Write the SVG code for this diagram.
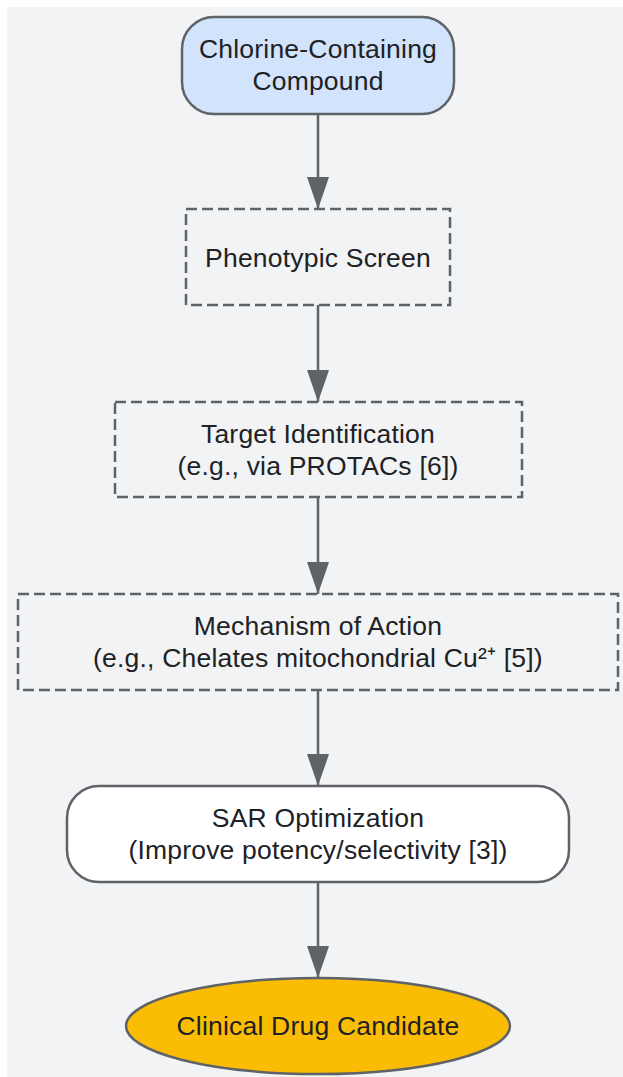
<svg xmlns="http://www.w3.org/2000/svg" width="623" height="1077" viewBox="0 0 623 1077">
<defs>
<style>
.n{stroke:#5f6368;stroke-width:2.5}
.d{fill:none;stroke:#5f6368;stroke-width:2.5;stroke-dasharray:11,5}
.t{font-family:"Liberation Sans",Arial,sans-serif;font-size:26.5px;letter-spacing:0.2px;fill:#202124;text-anchor:middle}
.e{stroke:#5f6368;stroke-width:2.5;fill:none}
</style>
<marker id="a" viewBox="0 0 32 22" refX="32" refY="11" markerWidth="32" markerHeight="22" markerUnits="userSpaceOnUse" orient="auto">
<path d="M0,0L32,11L0,22z" fill="#5f6368"/>
</marker>
</defs>
<rect x="7" y="7" width="616" height="1070" fill="#f1f3f4"/>
<g id="connectors">
<line class="e" x1="318" y1="114" x2="318" y2="209" marker-end="url(#a)"/>
<line class="e" x1="318" y1="305" x2="318" y2="402" marker-end="url(#a)"/>
<line class="e" x1="318" y1="497" x2="318" y2="594" marker-end="url(#a)"/>
<line class="e" x1="318" y1="690" x2="318" y2="786" marker-end="url(#a)"/>
<line class="e" x1="318" y1="882" x2="318" y2="978" marker-end="url(#a)"/>
</g>
<g id="n1">
<rect class="n" x="182" y="17" width="272" height="97" rx="32" fill="#d2e3fc"/>
<text class="t" x="318" y="58">Chlorine-Containing</text>
<text class="t" x="318" y="90">Compound</text>
</g>
<g id="n2">
<rect class="d" x="186" y="209" width="264" height="96"/>
<text class="t" x="318" y="267">Phenotypic Screen</text>
</g>
<g id="n3">
<rect class="d" x="115" y="402" width="407" height="95"/>
<text class="t" x="318" y="443">Target Identification</text>
<text class="t" x="318" y="475">(e.g., via PROTACs [6])</text>
</g>
<g id="n4">
<rect class="d" x="18" y="594" width="600" height="96"/>
<text class="t" x="318" y="635">Mechanism of Action</text>
<text class="t" x="318" y="667">(e.g., Chelates mitochondrial Cu²⁺ [5])</text>
</g>
<g id="n5">
<rect class="n" x="67" y="786" width="502" height="96" rx="32" fill="#ffffff"/>
<text class="t" x="318" y="827">SAR Optimization</text>
<text class="t" x="318" y="859">(Improve potency/selectivity [3])</text>
</g>
<g id="n6">
<ellipse class="n" cx="318" cy="1026" rx="192" ry="48" fill="#fbbc04"/>
<text class="t" x="318" y="1035">Clinical Drug Candidate</text>
</g>
</svg>
